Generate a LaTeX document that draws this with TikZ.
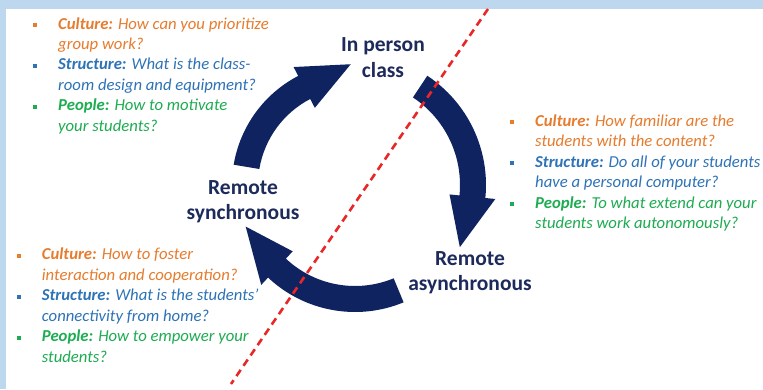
\documentclass[tikz,border=0pt]{standalone}
\usepackage{fontspec}
\setmainfont{Carlito}
\usetikzlibrary{calc}
\definecolor{bandblue}{RGB}{189,215,238}
\definecolor{cyclenavy}{RGB}{14,35,96}
\definecolor{stagenavy}{RGB}{28,42,92}
\definecolor{culture}{RGB}{230,124,46}
\definecolor{structure}{RGB}{46,115,182}
\definecolor{people}{RGB}{30,172,82}
\definecolor{cutred}{RGB}{232,40,40}
\tikzset{
    stage/.style={font=\fontsize{21.5}{25.5}\selectfont\bfseries, text=stagenavy, align=center, inner sep=0pt, anchor=base},
    question/.style={font=\fontsize{16.7}{20.5}\selectfont\itshape, align=left, inner sep=0pt, anchor=base west},
    cyclefill/.style={fill=cyclenavy},
    cutline/.style={cutred, line width=2.6pt, dash pattern=on 7.5pt off 5pt},
}
\newcommand{\qfirst}[3]{\makebox[25pt][l]{\raisebox{2.2pt}{\color{#1}\rule{4pt}{4pt}}}{\color{#1}\textbf{#2} #3}}
\newcommand{\qnext}[2]{\hspace*{25pt}{\color{#1}#2}}
% start angle, head angle, mid radius, tip direction
\newcommand{\cyclearrow}[4]{%
    \fill[cyclefill] ($(hub)+({#1}:{#3+13})$) arc[start angle=#1, end angle=#2, radius=#3+13]
        -- ($(hub)+({#2}:{#3+23})$) -- ($(hub)+({#2}:{#3})+({#4}:52)$) -- ($(hub)+({#2}:{#3-23})$)
        -- ($(hub)+({#2}:{#3-13})$) arc[start angle=#2, end angle=#1, radius=#3-13] -- cycle;}
\begin{document}
\begin{tikzpicture}[x=1pt, y=1pt]
    \useasboundingbox (0,0) rectangle (763,389);
    \fill[bandblue] (0,0) rectangle (763,389);
    \fill[white] (6,0) rectangle (763,379.5);
    \coordinate (hub) at (355,204);
    \cyclearrow{170.5}{117.5}{110}{26.5}
    \cyclearrow{56.5}{-5.7}{118}{-104}
    \cyclearrow{292.5}{226.8}{114}{127}
    \coordinate (cut-top) at (488,380);
    \coordinate (cut-bot) at (231,5);
    \draw[cutline] (cut-top) -- (cut-bot);
    \node[stage] (inperson) at (383,311.5) {In person\\class};
    \node[stage] (sync) at (243,169.5) {Remote\\synchronous};
    \node[stage] (async) at (470,98.5) {Remote\\asynchronous};
    \node[question] (q-inperson) at (33,257.5) {\qfirst{culture}{Culture:}{How can you prioritize}\\ \qnext{culture}{group work?}\\ \qfirst{structure}{Structure:}{What is the class-}\\ \qnext{structure}{room design and equipment?}\\ \qfirst{people}{People:}{How to motivate}\\ \qnext{people}{your students?}};
    \node[question] (q-async) at (510,160.1) {\qfirst{culture}{Culture:}{How familiar are the}\\ \qnext{culture}{students with the content?}\\ \qfirst{structure}{Structure:}{Do all of your students}\\ \qnext{structure}{have a personal computer?}\\ \qfirst{people}{People:}{To what extend can your}\\ \qnext{people}{students work autonomously?}};
    \node[question] (q-sync) at (16.7,26.8) {\qfirst{culture}{Culture:}{How to foster}\\ \qnext{culture}{interaction and cooperation?}\\ \qfirst{structure}{Structure:}{What is the students’}\\ \qnext{structure}{connectivity from home?}\\ \qfirst{people}{People:}{How to empower your}\\ \qnext{people}{students?}};
\end{tikzpicture}
\end{document}
